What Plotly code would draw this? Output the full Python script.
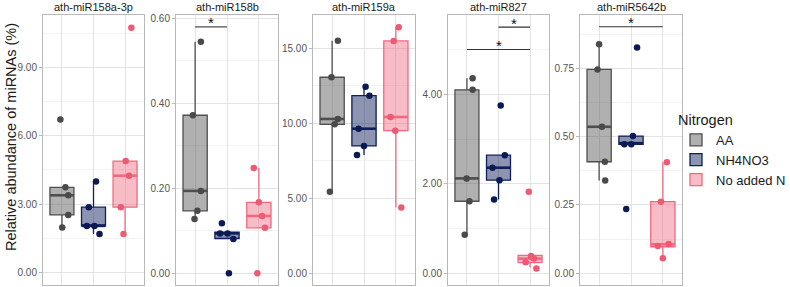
import plotly.graph_objects as go

# ---------------- data ----------------
groups = ["AA", "NH4NO3", "No added N"]
panels = ["ath-miR158a-3p", "ath-miR158b", "ath-miR159a", "ath-miR827", "ath-miR5642b"]

# jittered points as drawn (y values) and their horizontal jitter (category units)
pts_158a_AA = [6.71, 3.74, 3.39, 2.53, 1.98]
pts_158a_NH = [3.99, 2.87, 2.05, 2.05, 1.70]
pts_158a_NO = [10.73, 4.89, 4.25, 2.87, 1.69]
jit_158a_AA = [-0.05, 0.11, 0.20, 0.20, 0.01]
jit_158a_NH = [0.08, -0.15, -0.21, 0.03, 0.19]
jit_158a_NO = [0.20, 0.02, 0.125, -0.135, -0.05]

pts_158b_AA = [0.545, 0.372, 0.194, 0.147, 0.128]
pts_158b_NH = [0.118, 0.094, 0.094, 0.081, 0.0]
pts_158b_NO = [0.248, 0.167, 0.135, 0.107, 0.0]
jit_158b_AA = [0.18, -0.07, 0.18, 0.07, -0.02]
jit_158b_NH = [-0.16, -0.22, 0.02, 0.20, 0.06]
jit_158b_NO = [-0.16, 0.0, 0.10, 0.19, -0.05]

pts_159a_AA = [15.51, 13.07, 10.29, 9.93, 5.44]
pts_159a_NH = [12.44, 11.84, 9.64, 8.49, 7.89]
pts_159a_NO = [16.40, 15.49, 10.42, 9.51, 4.38]
jit_159a_AA = [0.18, -0.02, 0.18, 0.08, -0.07]
jit_159a_NH = [0.05, 0.17, -0.17, 0.0, -0.22]
jit_159a_NO = [0.09, -0.07, -0.17, -0.02, 0.17]

pts_827_AA = [4.36, 4.10, 2.12, 1.61, 0.86]
pts_827_NH = [3.75, 2.64, 2.36, 2.08, 1.65]
pts_827_NO = [1.82, 0.39, 0.33, 0.25, 0.11]
jit_827_AA = [0.18, 0.18, -0.01, 0.08, -0.07]
jit_827_NH = [0.07, 0.20, -0.19, 0.03, -0.14]
jit_827_NO = [-0.04, 0.03, 0.125, -0.14, 0.20]

pts_5642b_AA = [0.838, 0.746, 0.536, 0.408, 0.339]
pts_5642b_NH = [0.826, 0.502, 0.472, 0.472, 0.235]
pts_5642b_NO = [0.406, 0.262, 0.107, 0.100, 0.055]
jit_5642b_AA = [0.0, -0.05, 0.09, 0.18, 0.19]
jit_5642b_NH = [0.19, 0.06, -0.21, 0.01, -0.15]
jit_5642b_NO = [0.125, -0.06, 0.18, -0.16, 0.0]

# box statistics: [lower whisker, q1, median, q3, upper whisker]
box_158a = [[1.98, 2.53, 3.39, 3.74, 3.74], [1.70, 2.05, 2.05, 2.87, 3.99], [1.69, 2.87, 4.25, 4.89, 4.89]]
box_158b = [[0.128, 0.147, 0.194, 0.372, 0.545], [0.082, 0.082, 0.094, 0.097, 0.097], [0.107, 0.107, 0.135, 0.167, 0.248]]
box_159a = [[5.44, 9.93, 10.29, 13.07, 15.51], [7.89, 8.49, 9.64, 11.84, 12.44], [4.38, 9.51, 10.42, 15.49, 16.40]]
box_827 = [[0.86, 1.61, 2.12, 4.10, 4.36], [1.65, 2.08, 2.36, 2.64, 2.64], [0.13, 0.24, 0.33, 0.40, 0.40]]
box_5642b = [[0.339, 0.408, 0.536, 0.746, 0.838], [0.472, 0.472, 0.476, 0.502, 0.502], [0.055, 0.097, 0.106, 0.262, 0.406]]

# significance brackets: (panel index, group from, group to, y)
sig_bars = [(1, 1, 2, 0.58), (3, 1, 3, 5.0), (3, 2, 3, 5.5), (4, 1, 3, 0.902)]

# axis settings per panel
y_ranges = [[-0.54, 11.29], [-0.0275, 0.608], [-0.78, 17.22], [-0.26, 5.77], [-0.043, 0.945]]
y_ticks = [[0, 3, 6, 9], [0, 0.2, 0.4, 0.6], [0, 5, 10, 15], [0, 2, 4], [0, 0.25, 0.5, 0.75]]
y_minor = [[1.5, 4.5, 7.5, 10.5], [0.1, 0.3, 0.5], [2.5, 7.5, 12.5], [1, 3, 5], [0.125, 0.375, 0.625, 0.875]]

points = [
    [pts_158a_AA, pts_158a_NH, pts_158a_NO],
    [pts_158b_AA, pts_158b_NH, pts_158b_NO],
    [pts_159a_AA, pts_159a_NH, pts_159a_NO],
    [pts_827_AA, pts_827_NH, pts_827_NO],
    [pts_5642b_AA, pts_5642b_NH, pts_5642b_NO],
]
jitters = [
    [jit_158a_AA, jit_158a_NH, jit_158a_NO],
    [jit_158b_AA, jit_158b_NH, jit_158b_NO],
    [jit_159a_AA, jit_159a_NH, jit_159a_NO],
    [jit_827_AA, jit_827_NH, jit_827_NO],
    [jit_5642b_AA, jit_5642b_NH, jit_5642b_NO],
]
boxes = [box_158a, box_158b, box_159a, box_827, box_5642b]

# ---------------- style ----------------
line_cols = ["#4f4f4f", "#0e1f5b", "#ef6a80"]
fill_cols = ["rgba(79,79,79,0.45)", "rgba(14,31,91,0.48)", "rgba(239,106,128,0.45)"]
pt_cols = ["#4a4a4a", "#0b1a52", "#ee5a73"]
BOX_W = 0.76
FONT = "Liberation Sans, Arial, sans-serif"

W, H = 790, 287
ML, MR, MT, MB = 43, 108, 15, 2
PW = W - ML - MR
PH = H - MT - MB
panel_px = [(43, 144), (176, 278), (313, 415), (448, 549), (580, 682)]

fig = go.Figure()

for p in range(5):
    xa = "x" if p == 0 else f"x{p+1}"
    ya = "y" if p == 0 else f"y{p+1}"
    for g in range(3):
        lw, q1, med, q3, uw = boxes[p][g]
        xpos = g + 1
        fig.add_trace(go.Box(
            x=[xpos], q1=[q1], median=[med], q3=[q3], lowerfence=[lw], upperfence=[uw],
            width=BOX_W, whiskerwidth=0, boxpoints=False,
            line=dict(color=line_cols[g], width=1.3), fillcolor=fill_cols[g],
            name=groups[g], legendgroup=groups[g], showlegend=(p == 0),
            xaxis=xa, yaxis=ya, hoverinfo="skip",
        ))
        # thicker median line (as in ggplot)
        fig.add_trace(go.Scatter(
            x=[xpos - BOX_W / 2, xpos + BOX_W / 2], y=[med, med], mode="lines",
            line=dict(color=line_cols[g], width=2.6), showlegend=False,
            xaxis=xa, yaxis=ya, hoverinfo="skip",
        ))
    for g in range(3):
        xs = [g + 1 + j for j in jitters[p][g]]
        fig.add_trace(go.Scatter(
            x=xs, y=points[p][g], mode="markers",
            marker=dict(color=pt_cols[g], size=6.5, line=dict(width=0)),
            showlegend=False, xaxis=xa, yaxis=ya, hoverinfo="skip",
        ))

# significance brackets
for (p, a, b, yv) in sig_bars:
    xa = "x" if p == 0 else f"x{p+1}"
    ya = "y" if p == 0 else f"y{p+1}"
    fig.add_trace(go.Scatter(
        x=[a, b], y=[yv, yv], mode="lines", line=dict(color="#333333", width=1.1),
        showlegend=False, xaxis=xa, yaxis=ya, hoverinfo="skip",
    ))
    fig.add_annotation(x=(a + b) / 2, y=yv, xref=xa, yref=ya, text="*", showarrow=False,
                       xanchor="center", yanchor="middle", yshift=4,
                       font=dict(size=15, color="#111111", family=FONT))

layout = dict(
    width=W, height=H, margin=dict(l=ML, r=MR, t=MT, b=MB, autoexpand=False),
    paper_bgcolor="white", plot_bgcolor="white",
    boxmode="overlay",
    font=dict(family=FONT),
    legend=dict(
        title=dict(text="Nitrogen", font=dict(size=14.5, color="#1a1a1a")),
        font=dict(size=13, color="#1a1a1a"),
        x=(676 - ML) / PW, xanchor="left", y=1 - (106 - MT) / PH, yanchor="top",
        bgcolor="rgba(0,0,0,0)", tracegroupgap=0, itemwidth=30,
    ),
)

for p in range(5):
    sx = "xaxis" if p == 0 else f"xaxis{p+1}"
    sy = "yaxis" if p == 0 else f"yaxis{p+1}"
    x0, x1 = panel_px[p]
    layout[sx] = dict(
        domain=[(x0 - ML) / PW, (x1 - ML) / PW], range=[0.4, 3.6],
        tickvals=[1, 2, 3], showticklabels=False, ticks="",
        showgrid=True, gridcolor="#e3e3e3", gridwidth=1,
        showline=True, mirror=True, linecolor="#b8b8b8", linewidth=1,
        zeroline=False, anchor="y" if p == 0 else f"y{p+1}", fixedrange=True,
        automargin=False,
    )
    layout[sy] = dict(
        domain=[0, 1], range=y_ranges[p], tickmode="array", tickvals=y_ticks[p],
        ticktext=[f"{v:.2f}" for v in y_ticks[p]], ticklabeloverflow="allow",
        showgrid=True, gridcolor="#e3e3e3", gridwidth=1,
        minor=dict(tickmode="array", tickvals=y_minor[p], showgrid=True, gridcolor="#f2f2f2",
                   gridwidth=1, ticks=""),
        ticks="outside", ticklen=3, tickcolor="#b8b8b8",
        tickfont=dict(size=10, color="#555555", family=FONT),
        showline=True, mirror=True, linecolor="#b8b8b8", linewidth=1,
        zeroline=False, anchor="x" if p == 0 else f"x{p+1}", fixedrange=True,
        automargin=False,
    )
    fig.add_annotation(
        x=((x0 + x1) / 2 - ML) / PW, y=1, xref="paper", yref="paper",
        xanchor="center", yanchor="bottom",
        text=panels[p], showarrow=False, yshift=0,
        font=dict(size=11, color="#1a1a1a", family=FONT),
    )

fig.add_annotation(
    x=(11 - ML) / PW, y=1 - (137 - MT) / PH, xref="paper", yref="paper",
    text="Relative abundance of miRNAs (%)",
    textangle=-90, showarrow=False, xanchor="center", yanchor="middle",
    font=dict(size=14.5, color="#1a1a1a", family=FONT),
)

fig.update_layout(**layout)
fig.write_html("out.html")
